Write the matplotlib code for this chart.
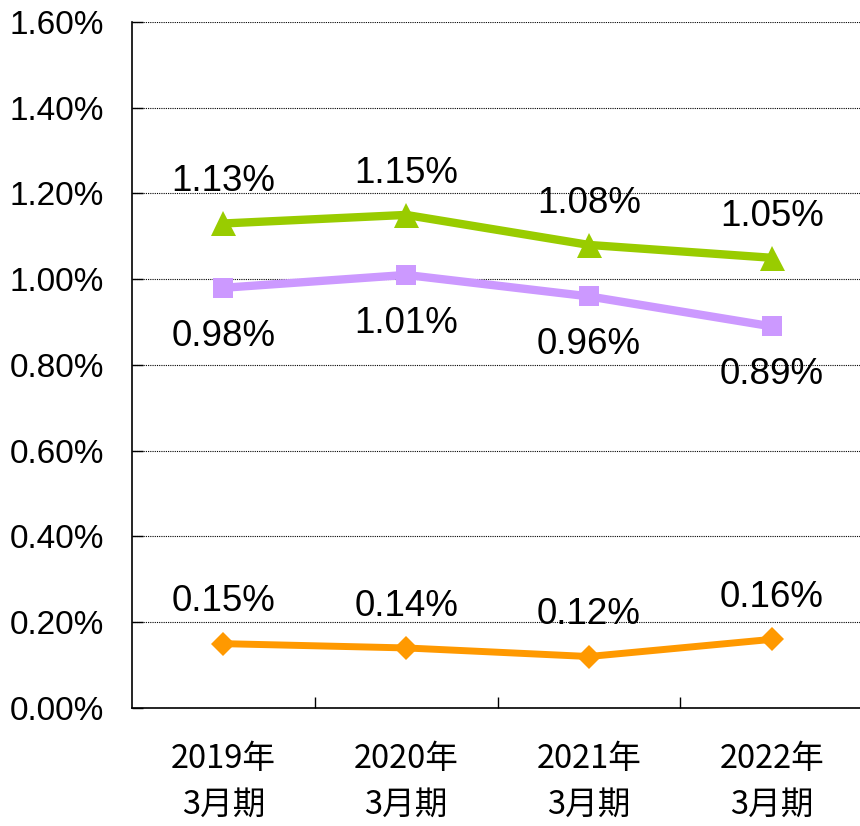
import matplotlib
matplotlib.use('Agg')
import matplotlib.pyplot as plt
import numpy as np

plt.rcParams['font.family'] = ['Liberation Sans', 'Noto Sans CJK JP', 'DejaVu Sans']

categories = ["2019年\n3月期", "2020年\n3月期", "2021年\n3月期", "2022年\n3月期"]
green_vals = [1.13, 1.15, 1.08, 1.05]
purple_vals = [0.98, 1.01, 0.96, 0.89]
orange_vals = [0.15, 0.14, 0.12, 0.16]
y_ticks = np.arange(0, 1.61, 0.2)

fig = plt.figure(figsize=(8.6, 8.26), dpi=100)
ax = fig.add_axes([0.1535, 0.1429, 0.85, 0.8305])

x = np.arange(len(categories))

series = [
    (green_vals, '#99CC00', '^', 18, 6, 30),
    (purple_vals, '#CC99FF', 's', 15, 6, -35),
    (orange_vals, '#FF9900', 'D', 12, 5, 30),
]
for vals, col, mk, ms, lw, off in series:
    ax.plot(x, vals, color=col, lw=lw, marker=mk, markersize=ms,
            markeredgewidth=0, zorder=3, clip_on=False)
    for xi, v in zip(x, vals):
        ax.annotate("{:.2f}%".format(v), (xi, v), xytext=(0, off),
                    textcoords='offset points', ha='center', va='center',
                    fontsize=26.5, color='black')

ax.set_xlim(-0.5, 3.5)
ax.set_ylim(0, 1.6)
ax.set_yticks(y_ticks)
ax.set_yticklabels(["{:.2f}%".format(t) for t in y_ticks], fontsize=24)
ax.set_xticks(x + 0.5, minor=False)
ax.set_xticklabels([])
ax.set_xticks(x, minor=True)
ax.set_xticklabels(categories, minor=True, fontsize=23.5,
                   family=['Noto Sans CJK JP'], linespacing=1.55)
ax.tick_params(axis='x', which='major', direction='in', length=8, width=1)
ax.tick_params(axis='x', which='minor', length=0, pad=25)
ax.tick_params(axis='y', direction='in', length=8, width=1, pad=20)

ax.grid(axis='y', color='black', lw=0.8, linestyle=(0, (1, 1)))
ax.set_axisbelow(True)
for s in ['top', 'right']:
    ax.spines[s].set_visible(False)
for s in ['left', 'bottom']:
    ax.spines[s].set_linewidth(1.2)

plt.savefig('out.png', dpi=100)
